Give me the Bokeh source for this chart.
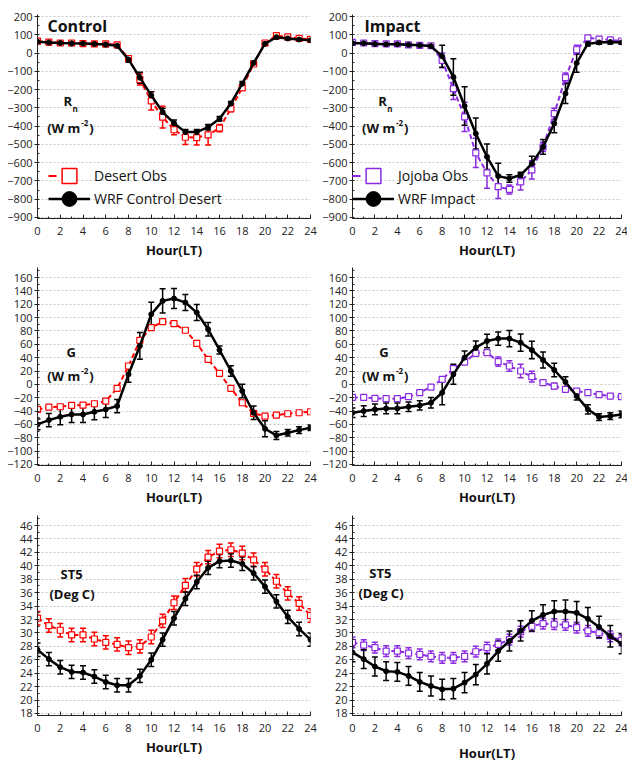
from bokeh.plotting import figure
from bokeh.layouts import gridplot
from bokeh.models import (ColumnDataSource, Whisker, TeeHead, Legend, LegendItem,
                          Label, Range1d, SingleIntervalTicker)
from bokeh.embed import file_html
from bokeh.resources import INLINE

hours = list(range(25))

# ---- Net radiation (Rn), W m-2 ----
rn_desert_obs = [65, 60, 55, 55, 52, 50, 50, 45, -30, -145, -262, -351, -420, -461, -463, -448, -411, -305, -190, -60, 55, 95, 88, 80, 75]
rn_desert_obs_err = [12, 12, 12, 12, 12, 12, 12, 10, 15, 30, 50, 60, 27, 40, 40, 55, 20, 17, 15, 12, 12, 10, 10, 10, 10]
rn_ctrl_wrf = [62, 58, 55, 53, 52, 50, 47, 40, -35, -135, -232, -323, -384, -433, -433, -406, -360, -277, -168, -55, 51, 87, 80, 74, 70]
rn_ctrl_wrf_err = [12, 12, 12, 12, 12, 12, 12, 10, 15, 30, 20, 20, 18, 15, 15, 15, 12, 12, 12, 12, 10, 10, 8, 8, 8]

rn_jojoba_obs = [58, 55, 52, 50, 50, 45, 42, 40, -40, -195, -350, -547, -656, -732, -747, -705, -640, -514, -332, -135, 18, 83, 76, 72, 66]
rn_jojoba_obs_err = [10, 10, 10, 10, 10, 10, 10, 10, 40, 60, 80, 80, 85, 65, 25, 45, 50, 25, 30, 25, 25, 12, 12, 12, 10]
rn_impact_wrf = [54, 54, 50, 48, 48, 45, 42, 38, -18, -131, -290, -441, -568, -674, -687, -668, -605, -514, -386, -222, -55, 51, 58, 60, 58]
rn_impact_wrf_err = [10, 10, 10, 10, 10, 10, 10, 10, 60, 100, 105, 85, 70, 70, 20, 15, 40, 40, 50, 55, 50, 12, 10, 10, 10]

# ---- Ground heat flux (G), W m-2 ----
g_desert_obs = [-37.5, -34, -33.5, -31.5, -31, -29, -25, -6, 27.5, 66, 85, 94, 91, 81, 61.5, 37.5, 16.5, -6, -27.5, -43.5, -47.5, -46, -44, -42.5, -41]
g_desert_obs_err = [2, 2, 2, 2, 2, 2, 2, 2, 3, 3, 3, 2, 2, 2, 2, 2, 2, 2, 2, 2, 2, 2, 2, 2, 2]
g_ctrl_wrf = [-60, -53.5, -48.5, -45, -45, -41, -37.5, -32.5, 15, 57.5, 105, 125, 128.5, 122.5, 107.5, 82.5, 51.5, 20, -10, -42.5, -66.5, -76.5, -72.5, -68.5, -65]
g_ctrl_wrf_err = [8, 10, 12, 12, 12, 12, 12, 10, 12, 20, 18, 18, 15, 12, 12, 10, 6, 8, 10, 10, 12, 6, 5, 5, 4]

g_jojoba_obs = [-19.5, -19.5, -21, -21.5, -21.5, -18.5, -12.5, -4, 7.5, 23.5, 33.5, 46.5, 47.5, 34, 27.5, 20, 11.5, 2.5, -2.5, -7.5, -10, -12.5, -15.5, -17.5, -18.5]
g_jojoba_obs_err = [2, 2, 2, 2, 2, 2, 3, 2, 2, 4, 4, 2, 4, 7, 8, 10, 8, 4, 4, 3, 2, 2, 2, 2, 2]
g_impact_wrf = [-42.5, -40, -37.5, -36, -36, -33.5, -31.5, -27.5, -12.5, 15, 40, 55, 65, 68.5, 68.5, 62.5, 51.5, 36.5, 21.5, 3.5, -17.5, -37.5, -49, -47.5, -45]
g_impact_wrf_err = [7, 8, 8, 8, 8, 7, 7, 8, 18, 15, 10, 10, 10, 10, 12, 13, 13, 12, 10, 8, 6, 7, 5, 5, 5]

# ---- Soil temperature at 5 cm (ST5), deg C ----
st5_desert_obs = [32.2, 31.1, 30.4, 29.7, 29.7, 29.1, 28.6, 28.3, 27.8, 28.0, 29.4, 31.8, 34.5, 37.1, 39.5, 41.3, 42.2, 42.4, 41.9, 40.9, 39.5, 37.7, 35.9, 34.4, 32.6]
st5_desert_obs_err = [1.0] * 25
st5_ctrl_wrf = [27.5, 26.1, 24.9, 24.2, 24.1, 23.5, 22.7, 22.2, 22.2, 23.6, 26.0, 29.0, 32.2, 35.1, 37.6, 39.7, 40.7, 40.8, 40.3, 38.9, 36.9, 34.7, 32.4, 30.6, 29.0]
st5_ctrl_wrf_err = [1.0] * 25

st5_jojoba_obs = [28.6, 28.2, 27.8, 27.3, 27.3, 27.0, 26.8, 26.5, 26.3, 26.3, 26.5, 27.2, 27.8, 28.3, 29.0, 30.2, 31.0, 31.4, 31.3, 31.2, 30.8, 30.3, 30.0, 29.5, 28.9]
st5_jojoba_obs_err = [0.8] * 25
st5_impact_wrf = [27.1, 26.1, 25.0, 24.3, 24.2, 23.6, 22.7, 22.1, 21.6, 21.7, 22.6, 23.8, 25.4, 27.3, 28.8, 30.3, 31.8, 32.7, 33.2, 33.2, 33.0, 32.1, 30.9, 29.5, 28.4]
st5_impact_wrf_err = [1.4, 1.4, 1.4, 1.4, 1.4, 1.4, 1.4, 1.5, 1.5, 1.5, 1.5, 1.5, 1.5, 1.5, 1.5, 1.5, 1.5, 1.5, 1.6, 1.7, 1.7, 1.7, 1.6, 1.6, 1.5]

RED = "#ff0000"
PURPLE = "#8a2be2"
BLACK = "#000000"
FONT = "Open Sans"

ROW_TOP = [14, 6, 7]
ROW_FRAME_H = [204, 198, 200]
ROW_BOTTOM = [41, 43, 48]
NAN = float("nan")


def add_errorbars(p, y, err, color):
    src = ColumnDataSource(dict(x=hours, lo=[a - b for a, b in zip(y, err)],
                                hi=[a + b for a, b in zip(y, err)]))
    w = Whisker(source=src, base="x", upper="hi", lower="lo", line_color=color, line_width=1.5,
                upper_head=TeeHead(size=6, line_color=color, line_width=1.5),
                lower_head=TeeHead(size=6, line_color=color, line_width=1.5))
    p.add_layout(w)


def panel(col, row, yr, yint, obs, obs_err, wrf, wrf_err, obs_color):
    left = col == 0
    p = figure(frame_width=273 if left else 269, frame_height=ROW_FRAME_H[row],
               x_range=Range1d(0, 24), y_range=Range1d(*yr),
               output_backend="svg", toolbar_location=None,
               min_border_left=37 if left else 29, min_border_right=9 if left else 10,
               min_border_top=ROW_TOP[row], min_border_bottom=ROW_BOTTOM[row])
    p.outline_line_color = None
    p.xgrid.visible = False
    p.ygrid.grid_line_color = "#c8c8c8"
    p.ygrid.grid_line_dash = "2 2"
    p.ygrid.grid_line_width = 1

    p.xaxis.ticker = SingleIntervalTicker(interval=2, num_minor_ticks=2)
    p.yaxis.ticker = SingleIntervalTicker(interval=yint, num_minor_ticks=2)
    for ax in (p.xaxis[0], p.yaxis[0]):
        ax.axis_line_color = "#222222"
        ax.major_tick_line_color = "#222222"
        ax.minor_tick_line_color = "#222222"
        ax.major_label_text_font = FONT
        ax.major_label_text_font_size = "11px"
        ax.major_label_text_color = "#222222"
    p.yaxis.major_tick_out = 3
    p.yaxis.major_tick_in = 0
    p.yaxis.minor_tick_out = 0
    p.yaxis.minor_tick_in = 2
    p.yaxis.major_label_standoff = 2
    p.xaxis.major_tick_out = 0
    p.xaxis.major_tick_in = 4
    p.xaxis.minor_tick_out = 0
    p.xaxis.minor_tick_in = 2
    p.xaxis.major_label_standoff = 8
    p.xaxis.axis_label = "Hour(LT)"
    p.xaxis.axis_label_text_font = FONT
    p.xaxis.axis_label_text_font_style = "bold"
    p.xaxis.axis_label_text_font_size = "13px"
    p.xaxis.axis_label_text_color = "#111111"
    p.xaxis.axis_label_standoff = 3 if not (row == 2 and col == 1) else 9

    # observations
    add_errorbars(p, obs, obs_err, obs_color)
    p.line(hours, obs, line_color=obs_color, line_width=2, line_dash="5 3")
    p.scatter(hours, obs, marker="square", size=6, line_color=obs_color,
              fill_color="white", line_width=1.2)
    # WRF
    add_errorbars(p, wrf, wrf_err, BLACK)
    p.line(hours, wrf, line_color=BLACK, line_width=2.5)
    p.scatter(hours, wrf, marker="circle", size=5, line_color=BLACK, fill_color=BLACK)
    return p


def lab(p, x, y, text, size="13px", dx=0, dy=0, bold=True):
    p.add_layout(Label(x=x, y=y, text=text, text_font=FONT, text_font_size=size,
                       text_font_style="bold" if bold else "normal",
                       text_baseline="middle", text_align="left",
                       x_offset=dx, y_offset=dy, text_color="#111111"))


def wm2(p, x, y):
    lab(p, x, y, "(W m")
    lab(p, x, y, "-2", size="8px", dx=34, dy=5)
    lab(p, x, y, ")", dx=42)


def one_legend(p, label, renderers, loc):
    leg = Legend(items=[LegendItem(label=label, renderers=renderers)],
                 location=loc, border_line_color=None, background_fill_alpha=0,
                 padding=0, margin=0, spacing=0, glyph_width=42, glyph_height=37,
                 label_height=37, label_standoff=4, label_text_font=FONT,
                 label_text_font_size="14px", label_text_color="#111111")
    p.add_layout(leg)


def add_legend(p, obs_label, wrf_label, obs_color, xloc):
    # legend-only renderers (no visible data) so the key symbols can be large
    r1 = p.line([NAN], [NAN], line_color=obs_color, line_width=2, line_dash="8 40")
    r2 = p.scatter([NAN], [NAN], marker="square", size=15, line_color=obs_color,
                   fill_color="white", line_width=1.5)
    r3 = p.line([NAN], [NAN], line_color=BLACK, line_width=2.5)
    r4 = p.scatter([NAN], [NAN], marker="circle", size=15, line_color=BLACK, fill_color=BLACK)
    one_legend(p, obs_label, [r1, r2], (xloc, 24))
    one_legend(p, wrf_label, [r3, r4], (xloc, 1))


p1 = panel(0, 0, (-906, 211), 100, rn_desert_obs, rn_desert_obs_err, rn_ctrl_wrf, rn_ctrl_wrf_err, RED)
p2 = panel(1, 0, (-906, 211), 100, rn_jojoba_obs, rn_jojoba_obs_err, rn_impact_wrf, rn_impact_wrf_err, PURPLE)
p3 = panel(0, 1, (-121.5, 175), 20, g_desert_obs, g_desert_obs_err, g_ctrl_wrf, g_ctrl_wrf_err, RED)
p4 = panel(1, 1, (-121.5, 175), 20, g_jojoba_obs, g_jojoba_obs_err, g_impact_wrf, g_impact_wrf_err, PURPLE)
p5 = panel(0, 2, (17.7, 47.5), 2, st5_desert_obs, st5_desert_obs_err, st5_ctrl_wrf, st5_ctrl_wrf_err, RED)
p6 = panel(1, 2, (17.7, 47.5), 2, st5_jojoba_obs, st5_jojoba_obs_err, st5_impact_wrf, st5_impact_wrf_err, PURPLE)

lab(p1, 0.88, 150, "Control", size="16px")
lab(p2, 1.06, 150, "Impact", size="16px")
for p, xr in ((p1, 2.29), (p2, 2.3)):
    lab(p, xr, -260, "R")
    lab(p, xr, -260, "n", size="8px", dx=9, dy=-8)
    wm2(p, 0.85, -408)
for p, xg in ((p3, 2.55), (p4, 2.39)):
    lab(p, xg, 49, "G")
    wm2(p, 0.85, 13)
lab(p5, 2.02, 38.8, "ST5")
lab(p5, 1.05, 35.8, "(Deg C)")
lab(p6, 1.5, 39.0, "ST5")
lab(p6, 0.53, 36.0, "(Deg C)")

add_legend(p1, "Desert Obs", "WRF Control Desert", RED, 11)
add_legend(p2, "Jojoba Obs", "WRF Impact", PURPLE, 0)

grid = gridplot([[p1, p2], [p3, p4], [p5, p6]], toolbar_location=None)

open("out.html", "w").write(file_html(grid, INLINE))
